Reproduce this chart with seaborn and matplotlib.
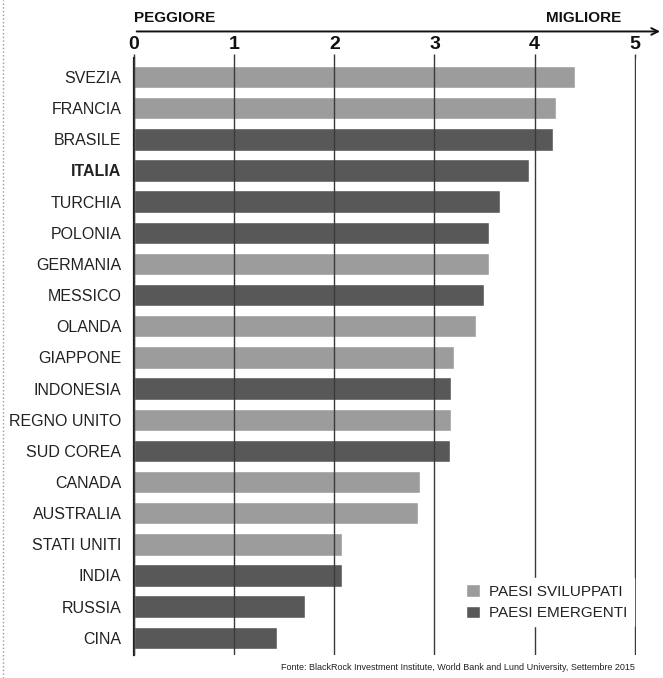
import matplotlib
matplotlib.use("Agg")
import pandas as pd
import matplotlib.pyplot as plt
from matplotlib.lines import Line2D
import seaborn as sns

sns.set_theme(style="white")
plt.rcParams['font.family'] = ['Liberation Sans', 'DejaVu Sans']

countries = ["SVEZIA", "FRANCIA", "BRASILE", "ITALIA", "TURCHIA", "POLONIA", "GERMANIA",
             "MESSICO", "OLANDA", "GIAPPONE", "INDONESIA", "REGNO UNITO", "SUD COREA",
             "CANADA", "AUSTRALIA", "STATI UNITI", "INDIA", "RUSSIA", "CINA"]
scores = [4.40, 4.21, 4.18, 3.94, 3.65, 3.54, 3.54, 3.49, 3.41, 3.20, 3.17, 3.17, 3.16,
          2.86, 2.84, 2.08, 2.08, 1.71, 1.43]
groups = ["PAESI SVILUPPATI", "PAESI SVILUPPATI", "PAESI EMERGENTI", "PAESI EMERGENTI",
          "PAESI EMERGENTI", "PAESI EMERGENTI", "PAESI SVILUPPATI", "PAESI EMERGENTI",
          "PAESI SVILUPPATI", "PAESI SVILUPPATI", "PAESI EMERGENTI", "PAESI SVILUPPATI",
          "PAESI EMERGENTI", "PAESI SVILUPPATI", "PAESI SVILUPPATI", "PAESI SVILUPPATI",
          "PAESI EMERGENTI", "PAESI EMERGENTI", "PAESI EMERGENTI"]
ticks = [0, 1, 2, 3, 4, 5]
source = "Fonte: BlackRock Investment Institute, World Bank and Lund University, Settembre 2015"

palette = {"PAESI SVILUPPATI": "#9c9c9c", "PAESI EMERGENTI": "#585858"}

df = pd.DataFrame({"paese": countries, "punteggio": scores, "gruppo": groups})

fig = plt.figure(figsize=(6.63, 6.78), dpi=100)
ax = fig.add_axes([0.202, 0.034, 0.757, 0.880])

sns.barplot(data=df, x="punteggio", y="paese", hue="gruppo", palette=palette,
            hue_order=["PAESI SVILUPPATI", "PAESI EMERGENTI"], dodge=False,
            width=0.72, ax=ax, legend=True)

ax.set_xlim(0, 5.01)
ax.set_ylim(len(countries) - 0.45, -0.6)
ax.set_xlabel("")
ax.set_ylabel("")

# top axis with bold numbers
ax.xaxis.tick_top()
ax.set_xticks(ticks)
ax.set_xticklabels([str(t) for t in ticks], fontsize=14, fontweight="bold", color="#111111")
ax.tick_params(axis="x", length=3, width=1, color="#333333", pad=1, top=True)
ax.tick_params(axis="y", length=0, pad=9, labelsize=11.5, labelcolor="#222222")
for lbl in ax.get_yticklabels():
    if lbl.get_text() == "ITALIA":
        lbl.set_fontweight("bold")

# vertical grid lines drawn over the bars
ax.set_axisbelow(False)
ax.grid(axis="x", color="#3a3a3a", linewidth=1.0)
ax.grid(axis="y", visible=False)
for side in ["top", "right", "bottom"]:
    ax.spines[side].set_visible(False)
ax.spines["left"].set_color("#222222")
ax.spines["left"].set_linewidth(1.6)

# legend
leg = ax.legend(loc="lower left", bbox_to_anchor=(0.635, 0.035), frameon=True,
                fontsize=11, handlelength=0.9, handleheight=0.9, handletextpad=0.6,
                labelspacing=0.45, borderpad=0.4)
leg.get_frame().set_facecolor("white")
leg.get_frame().set_edgecolor("white")
leg.get_frame().set_alpha(1)
leg.get_frame().set_boxstyle("square", pad=0)
for t in leg.get_texts():
    t.set_color("#222222")

# arrow from PEGGIORE to MIGLIORE
ax.annotate("", xy=(5.28, 1.045), xytext=(0, 1.045),
            xycoords=("data", "axes fraction"), textcoords=("data", "axes fraction"),
            arrowprops=dict(arrowstyle="->", color="#111111", lw=1.4), annotation_clip=False)
ax.text(0, 1.055, "PEGGIORE", transform=ax.get_xaxis_transform(), fontsize=11,
        fontweight="bold", ha="left", va="bottom", color="#111111")
ax.text(4.86, 1.055, "MIGLIORE", transform=ax.get_xaxis_transform(), fontsize=11,
        fontweight="bold", ha="right", va="bottom", color="#111111")

fig.text(0.957, 0.015, source, fontsize=6.5, ha="right", va="center", color="#222222")

# dotted frame on the left edge
fig.add_artist(Line2D([0.004, 0.004], [0.0, 1.0], transform=fig.transFigure,
                      color="#999999", linestyle=":", linewidth=1))

fig.savefig("out.png", dpi=100, facecolor="white")
